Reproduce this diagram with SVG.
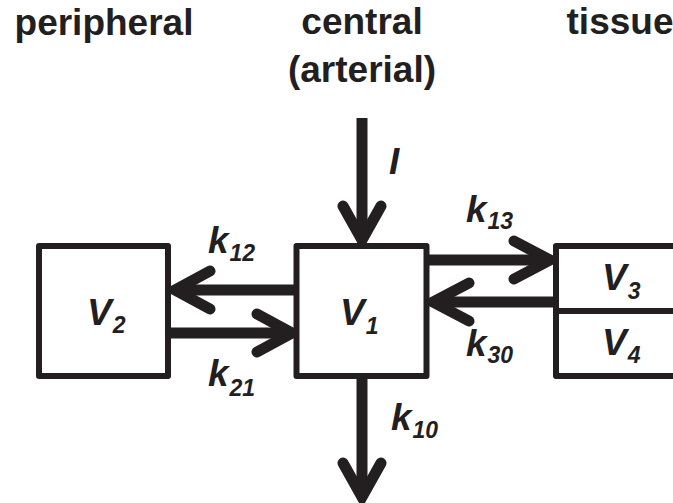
<svg xmlns="http://www.w3.org/2000/svg" width="673" height="503" viewBox="0 0 673 503">
  <style>
    .box { fill: #fff; stroke: #231f20; stroke-width: 6; stroke-linejoin: round; }
    .shaft { stroke: #231f20; stroke-width: 11; fill: none; }
    .head { stroke: #231f20; stroke-width: 11; fill: none; stroke-linecap: round; stroke-linejoin: miter; }
    .hdr { font-family: "Liberation Sans", Arial, sans-serif; font-weight: bold; font-size: 37px; fill: #231f20; text-anchor: middle; }
    .lbl { font-family: "Liberation Sans", Arial, sans-serif; font-weight: bold; font-style: italic; font-size: 37px; fill: #231f20; }
    .sub { font-size: 23px; }
  </style>

  <!-- column headings -->
  <g id="headings">
    <text class="hdr" x="104" y="35">peripheral</text>
    <text class="hdr" x="362" y="34">central</text>
    <text class="hdr" x="362" y="82">(arterial)</text>
    <text class="hdr" x="620" y="34">tissue</text>
  </g>

  <!-- connectors -->
  <g id="connectors">
    <!-- infusion I -->
    <line class="shaft" x1="362" y1="118" x2="362" y2="238"/>
    <polyline class="head" points="343,206 362,240 381,206"/>
    <!-- k12: central to peripheral -->
    <line class="shaft" x1="296" y1="290" x2="178" y2="290"/>
    <polyline class="head" points="210,271 175,290 210,309"/>
    <!-- k21: peripheral to central -->
    <line class="shaft" x1="170" y1="333" x2="288" y2="333"/>
    <polyline class="head" points="257,314 292,333 257,352"/>
    <!-- k13: central to tissue -->
    <line class="shaft" x1="428" y1="260" x2="546" y2="260"/>
    <polyline class="head" points="514,241 550,260 514,279"/>
    <!-- k30: tissue to central -->
    <line class="shaft" x1="555" y1="302" x2="438" y2="302"/>
    <polyline class="head" points="469,283 433,302 469,321"/>
    <!-- k10: elimination -->
    <line class="shaft" x1="362" y1="378" x2="362" y2="494"/>
    <polyline class="head" points="343,463 362,497 381,463"/>
  </g>

  <!-- peripheral compartment -->
  <g id="node-v2">
    <rect class="box" x="39" y="246" width="129" height="130"/>
    <text class="lbl" x="87" y="325">V<tspan class="sub" dx="1" dy="8">2</tspan></text>
  </g>

  <!-- central compartment -->
  <g id="node-v1">
    <rect class="box" x="296.5" y="246" width="130" height="130"/>
    <text class="lbl" x="340" y="325">V<tspan class="sub" dx="1" dy="9">1</tspan></text>
  </g>

  <!-- tissue compartments -->
  <g id="node-v3">
    <rect class="box" x="556" y="246" width="130" height="65"/>
    <text class="lbl" x="602" y="290">V<tspan class="sub" dx="1" dy="9">3</tspan></text>
  </g>
  <g id="node-v4">
    <rect class="box" x="556" y="311" width="130" height="65"/>
    <text class="lbl" x="602" y="355">V<tspan class="sub" dx="1" dy="8">4</tspan></text>
  </g>

  <!-- rate labels -->
  <g id="labels">
    <text class="lbl" x="389" y="174">I</text>
    <text class="lbl" x="208" y="253">k<tspan class="sub" dx="1" dy="8">12</tspan></text>
    <text class="lbl" x="208" y="386">k<tspan class="sub" dx="1" dy="10">21</tspan></text>
    <text class="lbl" x="466" y="222">k<tspan class="sub" dx="1" dy="7">13</tspan></text>
    <text class="lbl" x="466" y="356">k<tspan class="sub" dx="1" dy="7">30</tspan></text>
    <text class="lbl" x="391" y="430">k<tspan class="sub" dx="1" dy="8">10</tspan></text>
  </g>
</svg>
